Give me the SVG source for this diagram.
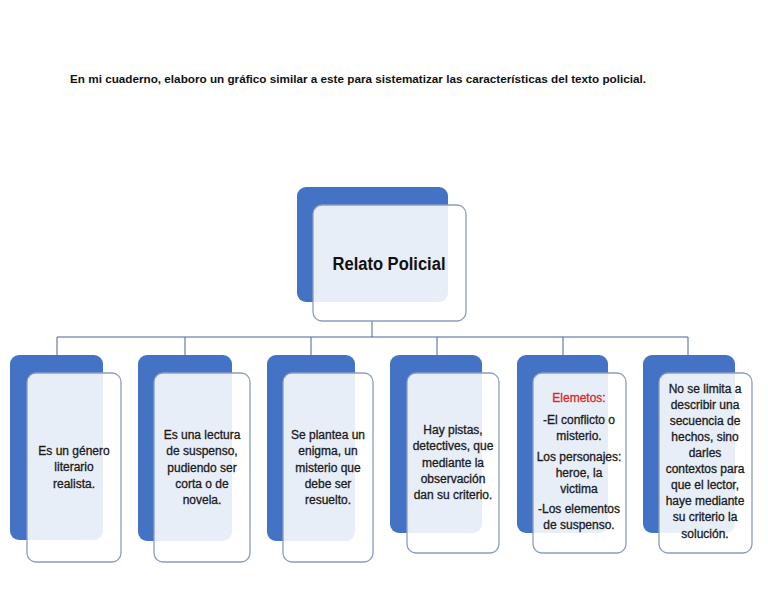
<svg xmlns="http://www.w3.org/2000/svg" width="768" height="594" viewBox="0 0 768 594">
<style>
.back{fill:#4472c4;}
.front{fill:#ffffff;fill-opacity:0.88;stroke:#8a9cc4;stroke-width:1.3;}
.t{font-family:"Liberation Sans",Arial,sans-serif;font-size:12px;fill:#1a1a1a;stroke:#1a1a1a;stroke-width:0.3;text-anchor:middle;}
.red{fill:#e0242c;stroke:#e0242c;}
.conn{stroke:#4d6490;stroke-width:1;fill:none;}
</style>
<rect width="768" height="594" fill="#ffffff"/>
<text x="70" y="83" font-family="Liberation Sans,Arial,sans-serif" font-weight="bold" font-size="11.5" fill="#111" textLength="576" lengthAdjust="spacingAndGlyphs">En mi cuaderno, elaboro un gráfico similar a este para sistematizar las características del texto policial.</text>
<g id="connectors">
<path class="conn" d="M372 321V337M57 337H688M57 337V355M185 337V355M311 337V355M437 337V355M563 337V355M688 337V355"/>
</g>
<g id="root">
<rect class="back" x="297" y="187" width="151" height="115" rx="9"/>
<rect class="front" x="313" y="205" width="153" height="116" rx="9"/>
<text x="389" y="270" font-family="Liberation Sans,Arial,sans-serif" font-weight="bold" font-size="17.5" fill="#111" text-anchor="middle" textLength="113" lengthAdjust="spacingAndGlyphs">Relato Policial</text>
</g>
<g id="n1">
<rect class="back" x="10" y="355" width="93" height="185" rx="9"/>
<rect class="front" x="27" y="373" width="94" height="189" rx="9"/>
<text class="t"><tspan x="74" y="455">Es un género</tspan><tspan x="74" y="471">literario</tspan><tspan x="74" y="488">realista.</tspan></text>
</g>
<g id="n2">
<rect class="back" x="138" y="355" width="94" height="186" rx="9"/>
<rect class="front" x="154" y="373" width="96" height="189" rx="9"/>
<text class="t"><tspan x="202" y="439">Es una lectura</tspan><tspan x="202" y="455">de suspenso,</tspan><tspan x="202" y="472">pudiendo ser</tspan><tspan x="202" y="488">corta o de</tspan><tspan x="202" y="504">novela.</tspan></text>
</g>
<g id="n3">
<rect class="back" x="267" y="355" width="88" height="186" rx="9"/>
<rect class="front" x="283" y="373" width="90" height="189" rx="9"/>
<text class="t"><tspan x="328" y="439">Se plantea un</tspan><tspan x="328" y="455">enigma, un</tspan><tspan x="328" y="472">misterio que</tspan><tspan x="328" y="488">debe ser</tspan><tspan x="328" y="504">resuelto.</tspan></text>
</g>
<g id="n4">
<rect class="back" x="390" y="355" width="92" height="178" rx="9"/>
<rect class="front" x="407" y="373" width="92" height="180" rx="9"/>
<text class="t"><tspan x="453" y="434">Hay pistas,</tspan><tspan x="453" y="450">detectives, que</tspan><tspan x="453" y="467">mediante la</tspan><tspan x="453" y="483">observación</tspan><tspan x="453" y="499">dan su criterio.</tspan></text>
</g>
<g id="n5">
<rect class="back" x="517" y="355" width="91" height="178" rx="9"/>
<rect class="front" x="533" y="373" width="93" height="180" rx="9"/>
<text class="t"><tspan class="red" x="579" y="402">Elemetos:</tspan><tspan x="579" y="424">-El conflicto o</tspan><tspan x="579" y="440">misterio.</tspan><tspan x="579" y="461">Los personajes:</tspan><tspan x="579" y="477">heroe, la</tspan><tspan x="579" y="493">victima</tspan><tspan x="579" y="513">-Los elementos</tspan><tspan x="579" y="529">de suspenso.</tspan></text>
</g>
<g id="n6">
<rect class="back" x="643" y="355" width="92" height="178" rx="9"/>
<rect class="front" x="659" y="373" width="93" height="180" rx="9"/>
<text class="t"><tspan x="705" y="393">No se limita a</tspan><tspan x="705" y="409">describir una</tspan><tspan x="705" y="425">secuencia de</tspan><tspan x="705" y="441">hechos, sino</tspan><tspan x="705" y="457">darles</tspan><tspan x="705" y="473">contextos para</tspan><tspan x="705" y="489">que el lector,</tspan><tspan x="705" y="505">haye mediante</tspan><tspan x="705" y="521">su criterio la</tspan><tspan x="705" y="538">solución.</tspan></text>
</g>
</svg>
